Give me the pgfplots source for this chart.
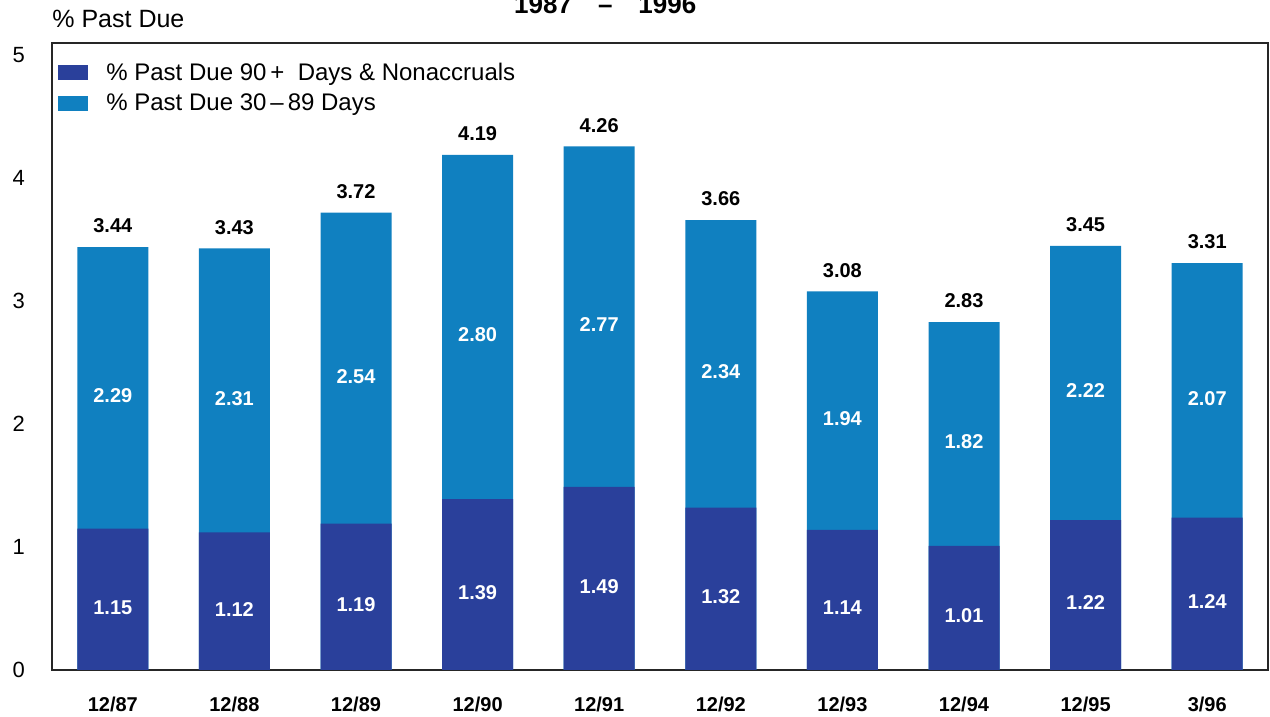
\documentclass[border=0pt]{standalone}
\usepackage{fontspec}
\setmainfont{Liberation Sans}
\usepackage{pgfplots}
\usepackage{pgfplotstable}
\pgfplotsset{compat=1.18}

\definecolor{darkbar}{RGB}{42,64,155}
\definecolor{lightbar}{RGB}{16,128,192}

% bot = 90+ days & nonaccruals, top = 30-89 days, tot = printed total
\pgfplotstableread{
x lab bot top tot
0 12/87 1.15 2.29 3.44
1 12/88 1.12 2.31 3.43
2 12/89 1.19 2.54 3.72
3 12/90 1.39 2.80 4.19
4 12/91 1.49 2.77 4.26
5 12/92 1.32 2.34 3.66
6 12/93 1.14 1.94 3.08
7 12/94 1.01 1.82 2.83
8 12/95 1.22 2.22 3.45
9 3/96 1.24 2.07 3.31
}\datatable

% half of one y unit in pt (313.5pt / 5.1 / 2)
\def\halfunit{30.735}

\begin{document}
\begin{tikzpicture}
\begin{axis}[
    scale only axis,
    width=608pt, height=313.5pt,
    ybar, bar shift=0pt,
    bar width=35.5pt,
    xmin=-0.5, xmax=9.5,
    ymin=0, ymax=5.1,
    xtick=data,
    xticklabels from table={\datatable}{lab},
    ytick={0,1,2,3,4,5},
    major tick length=0pt,
    axis line style={black!85, line width=0.7pt},
    /pgf/number format/assume math mode=true,
    xticklabel style={font=\bfseries\fontsize{10}{12}\selectfont, yshift=-10pt},
    yticklabel style={font=\fontsize{11}{13}\selectfont, xshift=-10pt},
    clip=false,
    point meta=explicit,
    nodes near coords={\pgfmathprintnumber[fixed,fixed zerofill,precision=2]{\pgfplotspointmeta}},
    nodes near coords style={font=\bfseries\fontsize{10}{12}\selectfont},
    reverse legend,
    legend style={draw=none, fill=none, at={(0.0,0.982)}, anchor=north west,
        font=\fontsize{12}{14}\selectfont, row sep=1.2pt,
        legend cell align=left},
    legend image code/.code={
        \fill[#1] (0pt,-3.75pt) rectangle (15pt,3.75pt);
        \path (22pt,0pt);},
]
% 30-89 days: full bar up to the total, the darker part is drawn over it
\addplot[fill=lightbar, draw=none,
    visualization depends on={\thisrow{top} \as \h},
    every node near coord/.append style={anchor=center, text=white,
        yshift={-\h*\halfunit pt-4pt}}]
    table[x=x, y=tot, meta=top] {\datatable};
\addlegendentry{\% Past Due 30\,--\,89 Days}
% 90+ days & nonaccruals
\addplot[fill=darkbar, draw=none,
    visualization depends on={\thisrow{bot} \as \h},
    every node near coord/.append style={anchor=center, text=white,
        yshift={-\h*\halfunit pt-4pt}}]
    table[x=x, y=bot, meta=bot] {\datatable};
\addlegendentry{\% Past Due 90\,+ \ Days \& Nonaccruals}
% totals above the bars
\addplot[fill=none, draw=none, forget plot,
    every node near coord/.append style={anchor=south, text=black, yshift=3.5pt}]
    table[x=x, y=tot, meta=tot] {\datatable};
\node[anchor=south west, font=\fontsize{12.5}{14}\selectfont, inner sep=0pt]
    at ([yshift=7.5pt]rel axis cs:0,1) {\% Past Due};
\node[anchor=base, font=\bfseries\fontsize{13}{15}\selectfont, inner sep=0pt]
    at ([yshift=14.5pt]rel axis cs:0.455,1) {1987\hspace{13pt}--\hspace{13pt}1996};
\end{axis}
\pgfresetboundingbox
\useasboundingbox (-26pt,-23.5pt) rectangle (609pt,335pt);
\end{tikzpicture}
\end{document}
